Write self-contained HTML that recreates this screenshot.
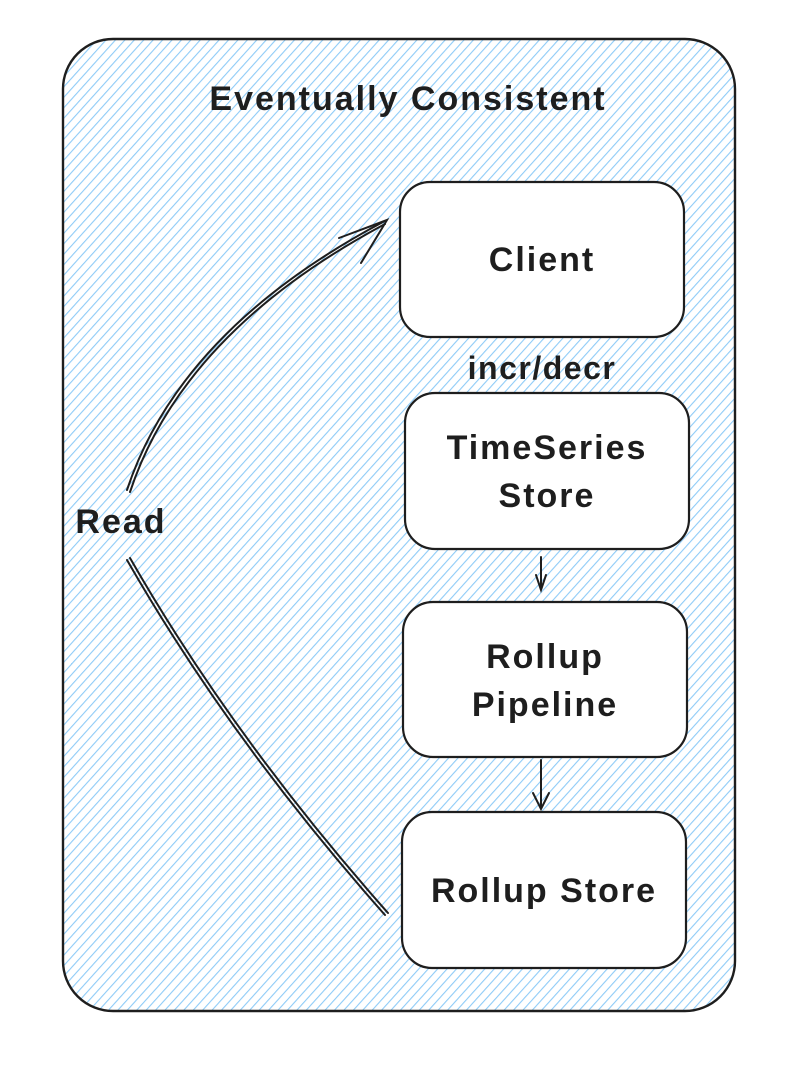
<!DOCTYPE html>
<html><head><meta charset="utf-8"><style>
html,body{margin:0;padding:0;background:#fff;}
svg{display:block;}
text{font-family:"Liberation Sans",sans-serif;fill:#1e1e1e;font-weight:bold;}
</style></head><body>
<svg width="802" height="1092" viewBox="0 0 802 1092" xmlns="http://www.w3.org/2000/svg">
<defs>
<pattern id="h" width="7" height="7" patternUnits="userSpaceOnUse" patternTransform="rotate(42)">
<line x1="0" y1="0" x2="0" y2="7" stroke="#8ecbf7" stroke-width="2.2"/>
</pattern>
</defs>
<rect x="63" y="39" width="672" height="972" rx="50" fill="#fff"/>
<rect x="63" y="39" width="672" height="972" rx="50" fill="url(#h)" stroke="#1e1e1e" stroke-width="2.4"/>
<text x="408" y="110" font-size="34" letter-spacing="2" text-anchor="middle">Eventually Consistent</text>

<rect x="400" y="182" width="284" height="155" rx="30" fill="#fff" stroke="#1e1e1e" stroke-width="2.2"/>
<text x="542" y="271" font-size="34" letter-spacing="2" text-anchor="middle">Client</text>

<text x="542" y="379" font-size="32" letter-spacing="1.5" text-anchor="middle">incr/decr</text>

<rect x="405" y="393" width="284" height="156" rx="30" fill="#fff" stroke="#1e1e1e" stroke-width="2.2"/>
<text x="547" y="459" font-size="34" letter-spacing="2" text-anchor="middle">TimeSeries</text>
<text x="547" y="507" font-size="34" letter-spacing="2" text-anchor="middle">Store</text>

<rect x="403" y="602" width="284" height="155" rx="30" fill="#fff" stroke="#1e1e1e" stroke-width="2.2"/>
<text x="545" y="668" font-size="34" letter-spacing="2" text-anchor="middle">Rollup</text>
<text x="545" y="716" font-size="34" letter-spacing="2" text-anchor="middle">Pipeline</text>

<rect x="402" y="812" width="284" height="156" rx="30" fill="#fff" stroke="#1e1e1e" stroke-width="2.2"/>
<text x="544" y="902" font-size="34" letter-spacing="2" text-anchor="middle">Rollup Store</text>

<g stroke="#1e1e1e" stroke-width="2" fill="none" stroke-linecap="round">
<path d="M541 557 L541 590 M536 575 L541 590 L546 575"/>
<path d="M541 760 L541 809 M533 793 L541 809 L549 793"/>
<path d="M385 915 Q230 740 127 560"/>
<path d="M388 913 Q233 738 130 558"/>
<path d="M127 490 Q180 330 383 222"/>
<path d="M130 492 Q183 332 385 224"/>
<path d="M339 238 L387 220 L361 263"/>
</g>
<text x="121" y="533" font-size="34" letter-spacing="2" text-anchor="middle">Read</text>
</svg>
</body></html>
